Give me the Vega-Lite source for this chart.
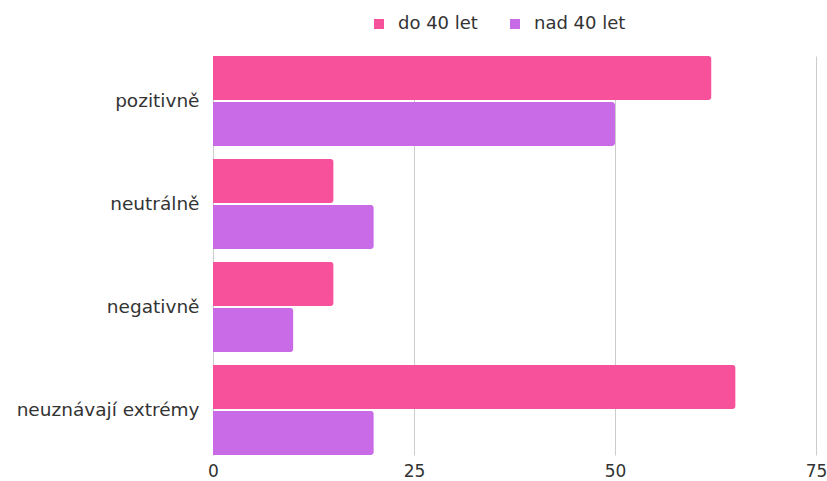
{
  "$schema": "https://vega.github.io/schema/vega-lite/v6.json",
  "width": 603,
  "height": 399,
  "autosize": "none",
  "padding": {"left": 213, "top": 56, "right": 11, "bottom": 26},
  "background": "white",
  "config": {
    "view": {"stroke": null},
    "font": "DejaVu Sans"
  },
  "data": {
    "values": [
      {"kategorie": "pozitivně", "skupina": "do 40 let", "hodnota": 62},
      {"kategorie": "pozitivně", "skupina": "nad 40 let", "hodnota": 50},
      {"kategorie": "neutrálně", "skupina": "do 40 let", "hodnota": 15},
      {"kategorie": "neutrálně", "skupina": "nad 40 let", "hodnota": 20},
      {"kategorie": "negativně", "skupina": "do 40 let", "hodnota": 15},
      {"kategorie": "negativně", "skupina": "nad 40 let", "hodnota": 10},
      {"kategorie": "neuznávají extrémy", "skupina": "do 40 let", "hodnota": 65},
      {"kategorie": "neuznávají extrémy", "skupina": "nad 40 let", "hodnota": 20}
    ]
  },
  "mark": {"type": "bar", "cornerRadiusEnd": 3},
  "encoding": {
    "y": {
      "field": "kategorie",
      "type": "nominal",
      "sort": ["pozitivně", "neutrálně", "negativně", "neuznávají extrémy"],
      "scale": {"paddingInner": 0.126, "paddingOuter": 0},
      "axis": {
        "title": null,
        "domain": false,
        "ticks": false,
        "labelPadding": 14,
        "labelFontSize": 18.5,
        "labelColor": "#333333",
        "labelLimit": 300
      }
    },
    "yOffset": {
      "field": "skupina",
      "type": "nominal",
      "sort": ["do 40 let", "nad 40 let"],
      "scale": {"paddingInner": 0.043, "paddingOuter": 0}
    },
    "x": {
      "field": "hodnota",
      "type": "quantitative",
      "scale": {"domain": [0, 75], "nice": false},
      "axis": {
        "title": null,
        "values": [0, 25, 50, 75],
        "domain": false,
        "ticks": false,
        "labelFlush": false,
        "labelPadding": 8,
        "labelFontSize": 17,
        "labelColor": "#333333",
        "gridColor": "#cccccc",
        "gridWidth": 1
      }
    },
    "color": {
      "field": "skupina",
      "type": "nominal",
      "sort": ["do 40 let", "nad 40 let"],
      "scale": {"domain": ["do 40 let", "nad 40 let"], "range": ["#F8519C", "#C96BE6"]},
      "legend": {
        "title": null,
        "orient": "none",
        "direction": "horizontal",
        "legendX": 157,
        "legendY": -41,
        "symbolType": "square",
        "symbolSize": 100,
        "symbolStrokeWidth": 0,
        "labelFontSize": 18,
        "labelColor": "#333333",
        "labelOffset": 10,
        "columnPadding": 28
      }
    }
  }
}
